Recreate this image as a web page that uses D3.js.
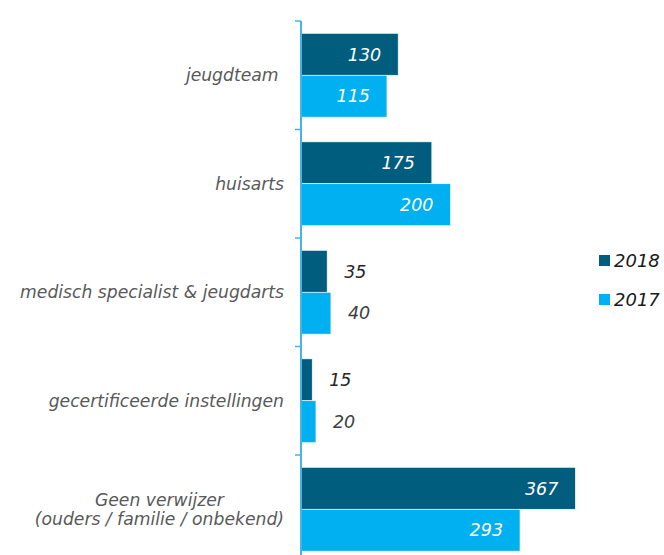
<!DOCTYPE html>
<html>
<head>
<meta charset="utf-8">
<script src="https://cdn.jsdelivr.net/npm/d3@7"></script>
<style>
  body { margin: 0; background: #fff; }
  svg { font-family: "DejaVu Sans", Verdana, sans-serif; font-style: italic; }
</style>
</head>
<body>
<div id="chart"></div>
<script>
let width = 664;
let height = 555;

// categories, top to bottom (last one has two lines)
let categories = ["jeugdteam ", "huisarts", "medisch specialist & jeugdarts", "gecertificeerde instellingen", "Geen verwijzer\n(ouders / familie / onbekend)"];
let years = ["2018", "2017"];
let values2018 = [130, 175, 35, 15, 367];
let values2017 = [115, 200, 40, 20, 293];
let colors = ["#005d7e", "#00b0f0"];

let data = categories.map(function (c, i) {
    return {cat: c, vals: [values2018[i], values2017[i]]};
});

let svg = d3.select("#chart").append("svg")
    .attr("width", width)
    .attr("height", height);

let x = d3.scaleLinear().domain([0, 400]).range([301, 600]);

// one band per category, ticks at the boundaries
let y = d3.scaleBand().domain(categories).range([21, 563.5]).padding(0);
let yInner = d3.scaleBand().domain(years).range([0, y.bandwidth()]).paddingOuter(0.295).paddingInner(0);

let groups = svg.selectAll(".cat")
    .data(data)
    .enter().append("g")
    .attr("class", "cat")
    .attr("transform", function (d) { return "translate(0," + y(d.cat) + ")"; });

groups.selectAll("rect")
    .data(function (d) { return d.vals; })
    .enter().append("rect")
    .attr("x", x(0))
    .attr("y", function (d, i) { return yInner(years[i]); })
    .attr("width", function (d) { return x(d) - x(0); })
    .attr("height", yInner.bandwidth())
    .attr("fill", function (d, i) { return colors[i]; })
    .attr("stroke", "#fff")
    .attr("stroke-width", 0.6);

// value labels: inside for long bars, outside for short ones
groups.selectAll(".val")
    .data(function (d) { return d.vals; })
    .enter().append("text")
    .attr("class", "val")
    .attr("font-size", 17.5)
    .attr("dy", "0.36em")
    .attr("y", function (d, i) { return yInner(years[i]) + yInner.bandwidth() / 2; })
    .attr("x", function (d) { return d > 80 ? x(d) - 17 : x(d) + 17; })
    .attr("text-anchor", function (d) { return d > 80 ? "end" : "start"; })
    .attr("fill", function (d, i) {
        if (d > 80) return "#fff";
        return i === 0 ? "#262626" : "#404040";
    })
    .text(function (d) { return d; });

// y axis
let axis = svg.append("g").attr("stroke", "#45b5e3");
axis.append("line")
    .attr("x1", x(0)).attr("x2", x(0))
    .attr("y1", 21).attr("y2", height)
    .attr("stroke-width", 2);
let ticks = categories.map(function (c) { return y(c); });
axis.selectAll(".tick")
    .data(ticks)
    .enter().append("line")
    .attr("x1", x(0) - 6).attr("x2", x(0))
    .attr("y1", function (d) { return d; })
    .attr("y2", function (d) { return d; })
    .attr("stroke-width", 1.5);

// category labels
groups.each(function (d) {
    let lines = d.cat.split("\n");
    let g = d3.select(this);
    let t = g.append("text")
        .attr("font-size", 17.2)
        .attr("fill", "#595959")
        .style("white-space", "pre");
    let lh = 19;
    let y0 = y.bandwidth() / 2 - (lines.length - 1) * lh / 2;
    let spans = lines.map(function (l, k) {
        return t.append("tspan")
            .attr("y", y0 + k * lh)
            .attr("dy", "0.36em")
            .text(l);
    });
    if (lines.length === 1) {
        t.attr("text-anchor", "end");
        spans[0].attr("x", 284);
    } else {
        let w = d3.max(spans, function (s) { return s.node().getComputedTextLength(); });
        t.attr("text-anchor", "middle");
        spans.forEach(function (s) { s.attr("x", 284 - w / 2); });
    }
});

// legend
let legend = svg.append("g");
years.forEach(function (yr, i) {
    let ly = 255 + i * 39;
    legend.append("rect")
        .attr("x", 599).attr("y", ly)
        .attr("width", 11).attr("height", 11)
        .attr("fill", colors[i]);
    legend.append("text")
        .attr("x", 614).attr("y", ly + 5.5)
        .attr("dy", "0.36em")
        .attr("font-size", 18)
        .attr("fill", "#1a1a1a")
        .text(yr);
});
</script>
</body>
</html>
